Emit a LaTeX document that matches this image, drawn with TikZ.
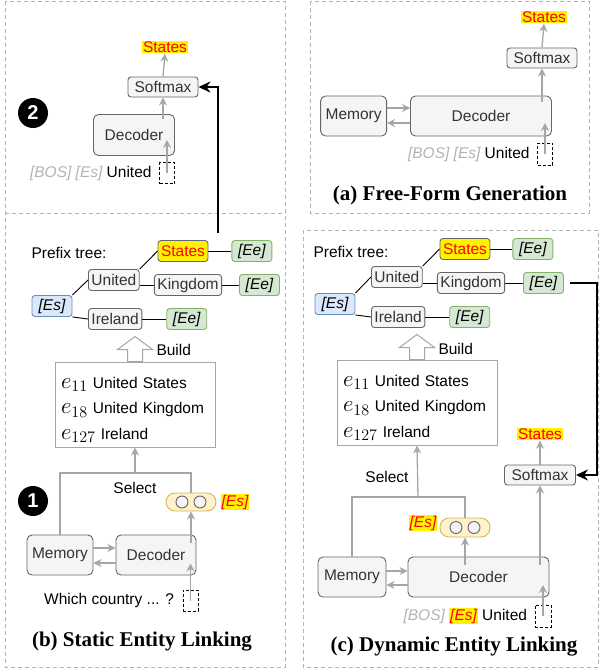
\RequirePackage{fix-cm}
\documentclass[tikz,border=0pt]{standalone}
\usepackage{fontspec}
\setmainfont{Liberation Sans}
\newfontfamily\captionfont{Liberation Serif}
\usepackage{tikz}
\usetikzlibrary{positioning, arrows.meta, calc, shapes}

\definecolor{boxfill}{HTML}{F5F5F5}
\definecolor{boxline}{HTML}{666666}
\definecolor{boxtext}{HTML}{333333}
\definecolor{flowgray}{HTML}{A6A6A6}
\definecolor{panelgray}{HTML}{B3B3B3}
\definecolor{esfill}{HTML}{DAE8FC}
\definecolor{esline}{HTML}{6C8EBF}
\definecolor{eefill}{HTML}{D5E8D4}
\definecolor{eeline}{HTML}{82B366}
\definecolor{vecfill}{HTML}{FFF2CC}
\definecolor{vecline}{HTML}{D6B656}
\definecolor{bosgray}{HTML}{B3B3B3}

\newcommand{\figfont}{\fontsize{15.5}{18}\selectfont}
\newcommand{\capfont}{\captionfont\bfseries\fontsize{21}{24}\selectfont}
\newcommand{\hlEs}{{\fboxsep=1pt\colorbox{yellow}{\color{red}\itshape [Es]}}}
\newcommand{\ent}[1]{{\fontsize{23}{23}\selectfont$e_{#1}$}}

\tikzstyle{arrow} = [draw=flowgray, line width=1.3pt, ->, >={Stealth[length=8pt,width=8pt]}]
\tikzstyle{line} = [draw=flowgray, line width=1.3pt]
\tikzstyle{feedback} = [line width=2pt, ->, >={Stealth[length=12pt,width=11pt]}]
\tikzstyle{module} = [rectangle, rounded corners=5pt, draw=boxline, fill=boxfill, text=boxtext, line width=0.9pt, minimum height=40pt]
\tikzstyle{tok} = [rectangle, rounded corners=3pt, draw=boxline, fill=boxfill, text=boxtext, line width=0.9pt, minimum height=21pt, inner xsep=3pt, inner ysep=1pt]
\tikzstyle{startnode} = [tok, fill=esfill, draw=esline, text=black, minimum width=40pt, font=\figfont\itshape]
\tikzstyle{endnode} = [tok, fill=eefill, draw=eeline, text=black, minimum width=40pt, font=\figfont\itshape]
\tikzstyle{hit} = [tok, fill=yellow, text=red]
\tikzstyle{highlight} = [fill=yellow, text=red, inner sep=1pt]
\tikzstyle{treeline} = [line width=0.9pt]
\tikzstyle{panel} = [draw=panelgray, line width=1pt, dash pattern=on 4pt off 3pt]
\tikzstyle{slot} = [draw, dash pattern=on 3pt off 2pt, line width=0.9pt, minimum width=15pt, minimum height=21pt, inner sep=0pt]
\tikzstyle{stepmark} = [circle, fill=black, text=white, minimum size=30pt, inner sep=0pt, font=\bfseries\fontsize{20}{20}\selectfont]
\tikzstyle{vector} = [rectangle, rounded corners=9pt, draw=vecline, fill=vecfill, line width=0.9pt, minimum width=50pt, minimum height=18pt]
\tikzstyle{unit} = [circle, draw=boxline, fill=boxfill, line width=0.9pt, minimum size=12pt, inner sep=0pt]
\tikzstyle{entities} = [rectangle, draw=flowgray, line width=1pt, text width=148pt, inner xsep=6pt, minimum height=85pt, align=left, font=\fontsize{15.5}{25.5}\selectfont]
\tikzstyle{hollow} = [draw=flowgray, fill=white, line width=1pt]

\begin{document}
\begin{tikzpicture}[x=1pt, y=-1pt, font=\figfont]
        \useasboundingbox (0,0) rectangle (600,670);
        % panels
        \draw [panel] (5,1) rectangle (285,667);
        \draw [panel] (5,213) -- (285,213);
        \draw [panel] (310,1) rectangle (589,213);
        \draw [panel] (303,230) rectangle (598,667);

        % step 2 of static linking
        \node (mark2) [stepmark] at (33,113) {2};
        \node (dec_s2) [module, minimum width=81pt, minimum height=41pt] at (134,135) {Decoder};
        \node (sm_s2) [tok, minimum width=70pt, minimum height=20pt] at (163,87) {Softmax};
        \node (out_s2) [highlight] at (165,47) {States};
        \node (slot_s2) [slot] at (167,173) {};
        \node (in_s2) [left=4pt of slot_s2] {{\color{bosgray}\itshape [BOS] [Es]} United};
        \draw [arrow] (slot_s2.center) -- ++(0,-33);
        \draw [arrow] ($(sm_s2.south |- dec_s2.north)+(0,5)$) -- (sm_s2.south);
        \draw [arrow] (sm_s2.north) -- (out_s2.south);

        % (a) free-form generation
        \node (dec_a) [module, minimum width=141pt] at (481,116) {Decoder};
        \node (mem_a) [module, minimum width=66pt, left=23pt of dec_a] {Memory};
        \node (sm_a) [tok, minimum width=70pt, minimum height=20pt] at (542,58) {Softmax};
        \node (out_a) [highlight] at (544,17) {States};
        \node (slot_a) [slot, minimum height=22pt] at (545,154) {};
        \node (in_a) [left=4pt of slot_a] {{\color{bosgray}\itshape [BOS] [Es]} United};
        \draw [arrow] ($(mem_a.east)+(0,-8)$) -- ($(dec_a.west)+(0,-8)$);
        \draw [arrow] ($(dec_a.west)+(0,7)$) -- ($(mem_a.east)+(0,7)$);
        \draw [arrow] ($(sm_a.south |- dec_a.north)+(0,6)$) -- (sm_a.south);
        \draw [arrow] (sm_a.north) -- (out_a.south);
        \draw [arrow] (slot_a.center) -- ++(0,-31);
        \node (cap_a) [font=\capfont] at (450,195) {(a) Free-Form Generation};

        % (b) static entity linking
        \node (prefix_b) at (69,253) {Prefix tree:};
        \node (es_b) [startnode] at (52,306) {[Es]};
        \node (un_b) [tok, anchor=west] at (88,280) {United};
        \node (ir_b) [tok, anchor=west] at (88,319) {Ireland};
        \node (st_b) [hit] at (183,251) {States};
        \node (kg_b) [tok] at (188,285) {Kingdom};
        \node (ee1_b) [endnode, right=23pt of st_b] {[Ee]};
        \node (ee2_b) [endnode, right=17pt of kg_b] {[Ee]};
        \node (ee3_b) [endnode, right=24pt of ir_b] {[Ee]};
        \draw [treeline] (es_b.north east) -- (un_b.west);
        \draw [treeline] (es_b.south east) -- (ir_b.west);
        \draw [treeline] (un_b.north east) -- (st_b.west);
        \draw [treeline] (kg_b.west -| un_b.east) -- (kg_b.west);
        \draw [treeline] (st_b) -- (ee1_b);
        \draw [treeline] (kg_b) -- (ee2_b);
        \draw [treeline] (ir_b) -- (ee3_b);
        \node (ent_b) [entities] at (135,404.5) {\rule{0pt}{22pt}\ent{11} United States\\ \ent{18} United Kingdom\\ \ent{127} Ireland};
        \draw [hollow] (ent_b.north) ++(-7.5,0) -- ++(0,-12) -- ++(-10,0) -- ++(17.5,-13) -- ++(17.5,13) -- ++(-10,0) -- ++(0,12) -- cycle;
        \node (build_b) [anchor=west] at (153,350) {Build};
        \coordinate (sel_b) at (135,473);
        \node (select_b) at (135,488) {Select};
        \node (mark1) [stepmark] at (33,501) {1};
        \node (vec_b) [vector] at (191,502) {};
        \node (u1_b) [unit] at (182,502) {};
        \node (u2_b) [unit] at (200,502) {};
        \node (tag_b) [highlight, font=\figfont\itshape] at (235,502) {[Es]};
        \node (mem_b) [module, minimum width=66pt] at (60,555) {Memory};
        \node (dec_b) [module, minimum width=80pt] at (156,555) {Decoder};
        \draw [line] (mem_b.north) |- (sel_b) -| (vec_b.north);
        \draw [arrow] (sel_b) -- (ent_b.south);
        \draw [arrow] ($(mem_b.east)+(0,-7)$) -- ($(dec_b.west)+(0,-7)$);
        \draw [arrow] ($(dec_b.west)+(0,8)$) -- ($(mem_b.east)+(0,8)$);
        \draw [arrow] ($(vec_b.south |- dec_b.north)+(0,8)$) -- (vec_b.south);
        \node (slot_b) [slot] at (190.5,600.5) {};
        \node (in_b) [left=5pt of slot_b] {Which country ... ?};
        \draw [arrow] (slot_b.center) -- ++(0,-37);
        \node (cap_b) [font=\capfont] at (142,642) {(b) Static Entity Linking};
        \coordinate (tree_out) at (218,233);
        \draw [feedback] (tree_out) |- (sm_s2.east);

        % (c) dynamic entity linking
        \node (prefix_c) at (351,252) {Prefix tree:};
        \node (es_c) [startnode] at (335,304) {[Es]};
        \node (un_c) [tok, anchor=west] at (371,277) {United};
        \node (ir_c) [tok, anchor=west] at (371,317) {Ireland};
        \node (st_c) [hit] at (465,249) {States};
        \node (kg_c) [tok] at (471,283) {Kingdom};
        \node (ee1_c) [endnode, right=22pt of st_c] {[Ee]};
        \node (ee2_c) [endnode, right=18pt of kg_c] {[Ee]};
        \node (ee3_c) [endnode, right=24pt of ir_c] {[Ee]};
        \draw [treeline] (es_c.north east) -- (un_c.west);
        \draw [treeline] (es_c.south east) -- (ir_c.west);
        \draw [treeline] (un_c.north east) -- (st_c.west);
        \draw [treeline] (kg_c.west -| un_c.east) -- (kg_c.west);
        \draw [treeline] (st_c) -- (ee1_c);
        \draw [treeline] (kg_c) -- (ee2_c);
        \draw [treeline] (ir_c) -- (ee3_c);
        \node (ent_c) [entities] at (417,402.5) {\rule{0pt}{22pt}\ent{11} United States\\ \ent{18} United Kingdom\\ \ent{127} Ireland};
        \draw [hollow] (ent_c.north) ++(-7.5,0) -- ++(0,-12) -- ++(-10,0) -- ++(17.5,-13) -- ++(17.5,13) -- ++(-10,0) -- ++(0,12) -- cycle;
        \node (build_c) [anchor=west] at (435,349) {Build};
        \node (out_c) [highlight] at (540,434) {States};
        \node (sm_c) [tok, minimum width=71pt, minimum height=20pt] at (540,475) {Softmax};
        \coordinate (sel_c) at (418,497);
        \node (select_c) at (387,477) {Select};
        \node (vec_c) [vector, minimum height=19pt] at (465,527.5) {};
        \node (u1_c) [unit] at (456,527.5) {};
        \node (u2_c) [unit] at (474,527.5) {};
        \node (tag_c) [highlight, font=\figfont\itshape] at (423,523) {[Es]};
        \node (mem_c) [module, minimum width=68pt] at (352,577) {Memory};
        \node (dec_c) [module, minimum width=141pt] at (478.5,577) {Decoder};
        \draw [line] (mem_c.north) |- (sel_c) -| (vec_c.north);
        \draw [arrow] (sel_c) -- (ent_c.south);
        \draw [arrow] ($(mem_c.east)+(0,-6)$) -- ($(dec_c.west)+(0,-6)$);
        \draw [arrow] ($(dec_c.west)+(0,8)$) -- ($(mem_c.east)+(0,8)$);
        \draw [arrow] ($(vec_c.south |- dec_c.north)+(0,8)$) -- (vec_c.south);
        \draw [arrow] ($(sm_c.south |- dec_c.north)+(0,8)$) -- (sm_c.south);
        \draw [arrow] (sm_c.north) -- (out_c.south);
        \node (slot_c) [slot, minimum width=16pt, minimum height=22pt] at (543,616) {};
        \node (in_c) [left=4pt of slot_c] {{\color{bosgray}\itshape [BOS]} \hlEs{} United};
        \draw [arrow] (slot_c.center) -- ++(0,-31);
        \node (cap_c) [font=\capfont] at (454,647) {(c) Dynamic Entity Linking};
        \draw [feedback] (ee2_c.east) ++(6,0) -- ++(27,0) |- (sm_c.east);
\end{tikzpicture}
\end{document}
